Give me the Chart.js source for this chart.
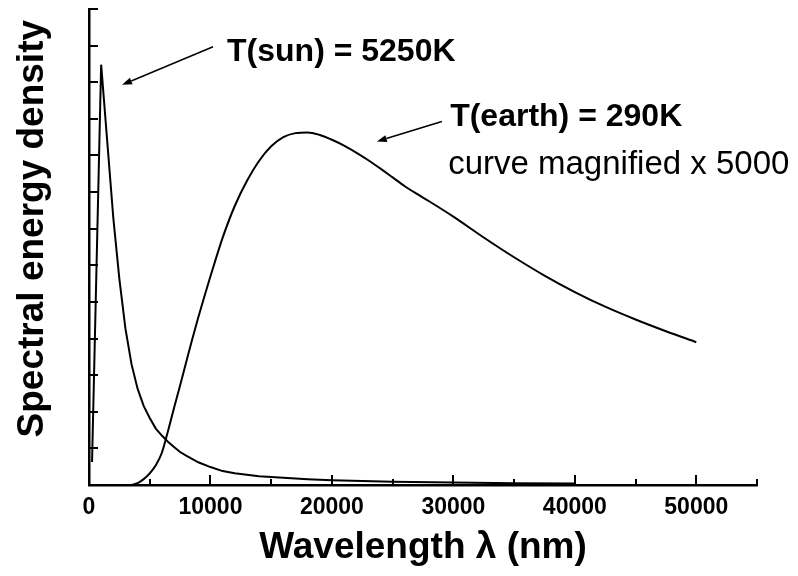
<!DOCTYPE html>
<html lang="en">
<head>
<meta charset="UTF-8">
<title>Spectral energy density</title>
<script src="https://cdn.jsdelivr.net/npm/chart.js@4.4.1/dist/chart.umd.min.js"></script>
<style>
    html, body { margin: 0; padding: 0; background: #fff; }
    #wrap { width: 798px; height: 576px; }
</style>
</head>
<body>
<div id="wrap"><canvas id="spectrum-chart" width="798" height="576"></canvas></div>
<script>
// 太陽 (5250K) のスペクトル
const sunWavelengths = [250, 1000, 2000, 2500, 3000, 3500, 4000, 4500, 5000, 5500, 6000, 6500, 7000, 7500, 8000,
    9000, 10000, 11000, 12000, 14000, 16000, 18000, 20000, 25000, 30000, 35000, 40000];
const sunValues = [0.63, 11.48, 7.3, 5.63, 4.27, 3.3, 2.63, 2.16, 1.83, 1.54, 1.35, 1.18, 1.04, 0.9, 0.8,
    0.62, 0.49, 0.38, 0.32, 0.24, 0.2, 0.16, 0.13, 0.09, 0.065, 0.05, 0.04];

// 地球 (290K) のスペクトル (x 5000)
const earthWavelengths = [3500, 4000, 4500, 5000, 5500, 6000, 6500, 7000, 7500, 8000, 8500, 9000, 9500, 10000,
    11000, 12000, 13000, 14000, 15000, 16000, 17000, 18000, 19000, 20000, 21000, 22000, 23000, 24000, 25000,
    26000, 27000, 28000, 30000, 32500, 35000, 37500, 40000, 42500, 45000, 47500, 50000];
const earthValues = [0, 0.05, 0.16, 0.32, 0.54, 0.88, 1.47, 2.1, 2.72, 3.35, 3.98, 4.58, 5.15, 5.7,
    6.75, 7.62, 8.3, 8.85, 9.25, 9.5, 9.61, 9.63, 9.56, 9.43, 9.27, 9.08, 8.87, 8.64, 8.4,
    8.16, 7.95, 7.75, 7.33, 6.76, 6.22, 5.72, 5.27, 4.87, 4.52, 4.2, 3.9];

// 軸の目盛り
const xTickValues = [0, 5000, 10000, 15000, 20000, 25000, 30000, 35000, 40000, 45000, 50000, 55000];
const xTickLabels = ['0', '', '10000', '', '20000', '', '30000', '', '40000', '', '50000', ''];
const yTickValues = [1, 2, 3, 4, 5, 6, 7, 8, 9, 10, 11, 12, 13];

// 注釈 (データ座標)
const notes = [
    { text: 'T(sun) = 5250K', x: 11367, y: 11.58, font: 'bold 32px "Liberation Sans", Arial, sans-serif' },
    { text: 'T(earth) = 290K', x: 29736, y: 9.81, font: 'bold 32px "Liberation Sans", Arial, sans-serif' },
    { text: 'curve magnified x 5000', x: 29572, y: 8.5, font: '33px "Liberation Sans", Arial, sans-serif' }
];
const arrows = [
    { from: [10214, 11.97], to: [2718, 10.93] },
    { from: [29053, 9.93], to: [23699, 9.38] }
];

const fontFamily = '"Liberation Sans", Arial, sans-serif';

// 内向きの目盛り線
const insideTicksPlugin = {
    id: 'insideTicks',
    afterDraw(chart) {
        const { ctx, scales: { x, y } } = chart;
        ctx.save();
        ctx.strokeStyle = '#000';
        ctx.lineWidth = 2;
        xTickValues.forEach(v => {
            const px = Math.round(x.getPixelForValue(v));
            const len = v % 10000 === 0 ? 10 : 6;
            ctx.beginPath();
            ctx.moveTo(px, y.bottom);
            ctx.lineTo(px, y.bottom - len);
            ctx.stroke();
        });
        yTickValues.forEach(v => {
            const py = Math.round(y.getPixelForValue(v));
            ctx.beginPath();
            ctx.moveTo(x.left, py);
            ctx.lineTo(x.left + 9, py);
            ctx.stroke();
        });
        ctx.restore();
    }
};

// 縦軸タイトル・注釈・矢印
const notesPlugin = {
    id: 'notes',
    afterDraw(chart) {
        const { ctx, scales: { x, y } } = chart;
        ctx.save();
        ctx.fillStyle = '#000';
        ctx.strokeStyle = '#000';

        // 縦軸タイトル
        ctx.save();
        ctx.translate(x.left - 46, y.getPixelForValue(7));
        ctx.rotate(-Math.PI / 2);
        ctx.font = 'bold 37px ' + fontFamily;
        ctx.textAlign = 'center';
        ctx.textBaseline = 'alphabetic';
        ctx.fillText('Spectral energy density', 0, 0);
        ctx.restore();

        ctx.textAlign = 'left';
        ctx.textBaseline = 'alphabetic';
        notes.forEach(n => {
            ctx.font = n.font;
            ctx.fillText(n.text, x.getPixelForValue(n.x), y.getPixelForValue(n.y));
        });

        ctx.lineWidth = 1.5;
        arrows.forEach(a => {
            const x1 = x.getPixelForValue(a.from[0]), y1 = y.getPixelForValue(a.from[1]);
            const x2 = x.getPixelForValue(a.to[0]), y2 = y.getPixelForValue(a.to[1]);
            const ang = Math.atan2(y2 - y1, x2 - x1);
            const head = 10, half = 3.5;
            const bx = x2 - head * Math.cos(ang), by = y2 - head * Math.sin(ang);
            ctx.beginPath();
            ctx.moveTo(x1, y1);
            ctx.lineTo(bx, by);
            ctx.stroke();
            ctx.beginPath();
            ctx.moveTo(x2, y2);
            ctx.lineTo(bx + half * Math.sin(ang), by - half * Math.cos(ang));
            ctx.lineTo(bx - half * Math.sin(ang), by + half * Math.cos(ang));
            ctx.closePath();
            ctx.fill();
        });
        ctx.restore();
    }
};

function createChart() {
    const sunData = sunWavelengths.map((w, i) => ({ x: w, y: sunValues[i] }));
    const earthData = earthWavelengths.map((w, i) => ({ x: w, y: earthValues[i] }));

    const ctx = document.getElementById('spectrum-chart').getContext('2d');
    return new Chart(ctx, {
        type: 'line',
        data: {
            datasets: [{
                label: 'T(sun) = 5250K',
                data: sunData,
                borderColor: '#000',
                borderWidth: 2,
                pointRadius: 0,
                tension: 0,
                fill: false
            }, {
                label: 'T(earth) = 290K',
                data: earthData,
                borderColor: '#000',
                borderWidth: 2,
                pointRadius: 0,
                cubicInterpolationMode: 'monotone',
                fill: false
            }]
        },
        options: {
            responsive: false,
            animation: false,
            devicePixelRatio: 1,
            layout: { padding: { top: 9, right: 41, left: 0, bottom: 0 } },
            plugins: {
                legend: { display: false },
                tooltip: { enabled: false }
            },
            scales: {
                x: {
                    type: 'linear',
                    min: 0,
                    max: 55000,
                    afterBuildTicks: scale => {
                        scale.ticks = xTickValues.map(v => ({ value: v }));
                    },
                    afterFit: scale => { scale.height = 91; },
                    grid: { display: false, drawTicks: false },
                    border: { display: true, color: '#000', width: 2.5 },
                    ticks: {
                        autoSkip: false,
                        maxRotation: 0,
                        padding: 9,
                        color: '#000',
                        font: { family: fontFamily, size: 23, weight: 'bold' },
                        callback: function(value, index) {
                            return xTickLabels[index];
                        }
                    },
                    title: {
                        display: true,
                        text: 'Wavelength λ (nm)',
                        color: '#000',
                        font: { family: fontFamily, size: 37, weight: 'bold' },
                        padding: { top: 0, bottom: 6 }
                    }
                },
                y: {
                    type: 'linear',
                    min: 0,
                    max: 13,
                    afterFit: scale => { scale.width = 89; },
                    grid: { display: false, drawTicks: false },
                    border: { display: true, color: '#000', width: 2.5 },
                    ticks: { display: false }
                }
            }
        },
        plugins: [insideTicksPlugin, notesPlugin]
    });
}

document.addEventListener('DOMContentLoaded', () => {
    try {
        createChart();
    } catch (error) {
        console.error('描画エラー:', error);
    }
});
</script>
</body>
</html>
